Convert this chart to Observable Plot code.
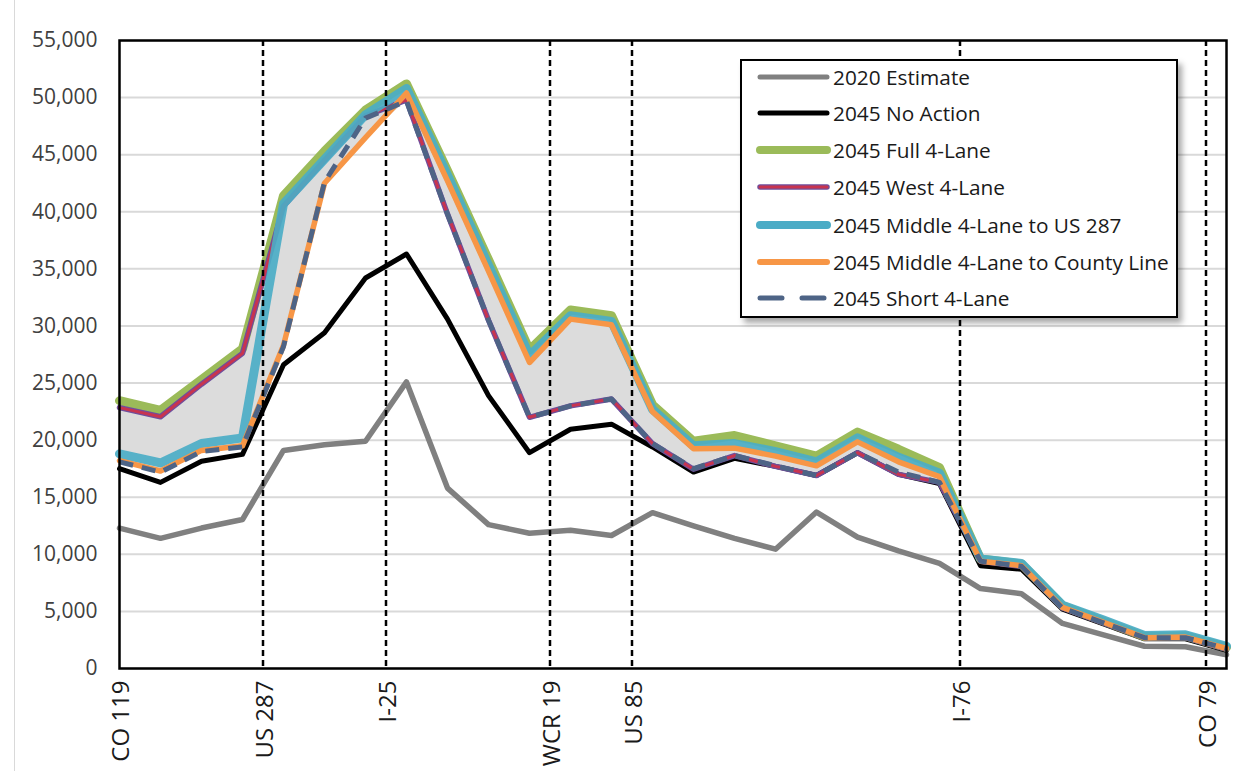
<!DOCTYPE html>
<html>
<head>
<meta charset="utf-8">
<script src="https://cdn.jsdelivr.net/npm/d3@7"></script>
<script src="https://cdn.jsdelivr.net/npm/@observablehq/plot@0.6"></script>
<style>
  body { margin: 0; background: #fff; font-family: "Open Sans", sans-serif; }
  #wrap { position: relative; width: 1248px; height: 771px; overflow: hidden; background: #fff; }
  #edge { position: absolute; left: 14px; top: 0; width: 1px; height: 771px; background: #d9d9d9; }
  #chart { position: absolute; left: 0; top: 0; }
  #legend { position: absolute; left: 740px; top: 59px; width: 438px; height: 259px; box-sizing: border-box;
            border: 2px solid #000; background: #fff; box-shadow: 4px 5px 6px rgba(0,0,0,0.35); }
  .row { position: absolute; left: 0; height: 28px; }
  .row svg { position: absolute; left: 13px; top: 8px; }
  .row span { position: absolute; left: 91px; top: 0; line-height: 28px; font-size: 20.8px; color: #1a1a1a; white-space: nowrap; }
</style>
</head>
<body>
<div id="wrap">
  <div id="edge"></div>
  <div id="chart"></div>
  <div id="legend"></div>
</div>
<script>
// ---- Data (28 count stations along the corridor, index 0..27) ----
const est2020   = [12300, 11400, 12300, 13050, 19100, 19600, 19900, 25100, 15800, 12600, 11850, 12100, 11650, 13650, 12500, 11400, 10450, 13700, 11500, 10300, 9200, 7000, 6550, 3950, 2950, 1950, 1900, 1200];
const noAction  = [17500, 16300, 18150, 18750, 26600, 29400, 34200, 36300, 30600, 23900, 18900, 20950, 21400, 19400, 17200, 18400, 17700, 16900, 18900, 17000, 16200, 9000, 8700, 5200, 3900, 2600, 2600, 1600];
const full4     = [23450, 22600, 25300, 28000, 41400, 45300, 48900, 51200, 43600, 35800, 27900, 31400, 30900, 23100, 19900, 20400, 19500, 18600, 20700, 19200, 17600, 9600, 9150, 5500, 4150, 2800, 2850, 1850];
const west4     = [22850, 22050, 24900, 27600, 40500, 44500, 48400, 49800, 39800, 30500, 22000, 23000, 23600, 19700, 17450, 18650, 17700, 16900, 18900, 17000, 16300, 9400, 8950, 5300, 4000, 2700, 2700, 1700];
const mid287    = [18800, 18000, 19700, 20200, 40700, 44600, 48500, 50800, 43200, 35300, 27400, 30900, 30400, 22700, 19500, 19700, 19000, 18100, 20200, 18500, 17100, 9600, 9200, 5550, 4250, 2900, 2950, 1950];
const midCounty = [18200, 17300, 19100, 19500, 28300, 42500, 46500, 50400, 42700, 34800, 26800, 30600, 30100, 22500, 19250, 19300, 18600, 17750, 19850, 18100, 16800, 9400, 9000, 5350, 4050, 2700, 2750, 1750];
const short4    = [18100, 17200, 19000, 19400, 28200, 42600, 48200, 49700, 39800, 30500, 22000, 23000, 23600, 19700, 17500, 18650, 17750, 16900, 18900, 17200, 16300, 9400, 8950, 5300, 4000, 2700, 2700, 1750];

const landmarkNames = ["CO 119", "US 287", "I-25", "WCR 19", "US 85", "I-76", "CO 79"];
const landmarkPos   = [0, 3.5, 6.5, 10.5, 12.5, 20.5, 26.5];
const yTicks = [0, 5000, 10000, 15000, 20000, 25000, 30000, 35000, 40000, 45000, 50000, 55000];

const seriesNames = ["2020 Estimate", "2045 No Action", "2045 Full 4-Lane", "2045 West 4-Lane",
                     "2045 Middle 4-Lane to US 287", "2045 Middle 4-Lane to County Line", "2045 Short 4-Lane"];

// ---- Derived tables ----
const idx = est2020.map((_, i) => i);
const builds = [full4, west4, mid287, midCounty, short4];
const band = idx.map(i => ({i, lo: d3.min(builds, s => s[i]), hi: d3.max(builds, s => s[i])}));
const nameAt = new Map(landmarkPos.map((p, k) => [p, landmarkNames[k]]));

const lineOpts = (arr, stroke, w, extra = {}) =>
  ({x: i => i, y: i => arr[i], stroke, strokeWidth: w, strokeLinejoin: "round", strokeLinecap: "round", ...extra});

const chart = Plot.plot({
  width: 1248, height: 771,
  marginLeft: 119, marginRight: 22, marginTop: 40, marginBottom: 103,
  style: {fontFamily: '"Open Sans", sans-serif', background: "transparent", overflow: "visible"},
  x: {type: "linear", domain: [0, 27], axis: null},
  y: {domain: [0, 55000], axis: null},
  marks: [
    Plot.ruleY(yTicks, {stroke: "#d9d9d9", strokeWidth: 2}),
    Plot.areaY(band, {x: "i", y1: "lo", y2: "hi", fill: "#dcdcdc"}),
    Plot.line(idx, lineOpts(est2020, "#808080", 5.5)),
    Plot.line(idx, lineOpts(noAction, "#000000", 5)),
    Plot.line(idx, lineOpts(full4, "#9BBB59", 9)),
    Plot.line(idx, lineOpts(west4, "#6F4E9C", 5.5)),
    Plot.line(idx, lineOpts(west4, "#C8344F", 3)),
    Plot.line(idx, lineOpts(mid287, "#4BACC6", 9, {strokeOpacity: 0.92})),
    Plot.line(idx, lineOpts(midCounty, "#F79646", 5.5)),
    Plot.line(idx, lineOpts(short4, "#4E6486", 5, {strokeDasharray: "14,9", strokeLinecap: "butt"})),
    Plot.ruleX(landmarkPos.filter(p => p > 0), {stroke: "#000", strokeWidth: 2.5, strokeDasharray: "6,4"}),
    Plot.frame({stroke: "#000", strokeWidth: 2.5}),
    Plot.axisY({ticks: yTicks, tickSize: 0, tickPadding: 22, tickFormat: d3.format(","), fontSize: 21, color: "#404040"}),
    Plot.axisX({ticks: landmarkPos, tickFormat: d => nameAt.get(d), tickRotate: -90, tickSize: 0, tickPadding: 12, fontSize: 24, color: "#1a1a1a", label: null, dx: 2})
  ]
});
document.getElementById("chart").appendChild(chart);

// ---- Legend ----
const legendStyles = [
  {stroke: "#808080", w: 5},
  {stroke: "#000000", w: 5},
  {stroke: "#9BBB59", w: 8},
  {stroke: "#6F4E9C", w: 5.5, inner: "#C8344F", iw: 3},
  {stroke: "#4BACC6", w: 8},
  {stroke: "#F79646", w: 6},
  {stroke: "#4E6486", w: 5, dash: "22,20"}
];
const legend = document.getElementById("legend");
const rowCenters = [16, 52, 89, 126, 164, 201, 237];
seriesNames.forEach((name, k) => {
  const st = legendStyles[k];
  const row = document.createElement("div");
  row.className = "row";
  row.style.top = (rowCenters[k] - 14) + "px";
  row.style.width = "432px";
  let svg = `<svg width="76" height="12"><line x1="5" y1="6" x2="72" y2="6" stroke="${st.stroke}" stroke-width="${st.w}" stroke-linecap="round"${st.dash ? ` stroke-dasharray="${st.dash}"` : ""}/>`;
  if (st.inner) svg += `<line x1="5" y1="6" x2="72" y2="6" stroke="${st.inner}" stroke-width="${st.iw}" stroke-linecap="round"/>`;
  svg += `</svg>`;
  row.innerHTML = svg + `<span>${name}</span>`;
  legend.appendChild(row);
});
</script>
</body>
</html>
